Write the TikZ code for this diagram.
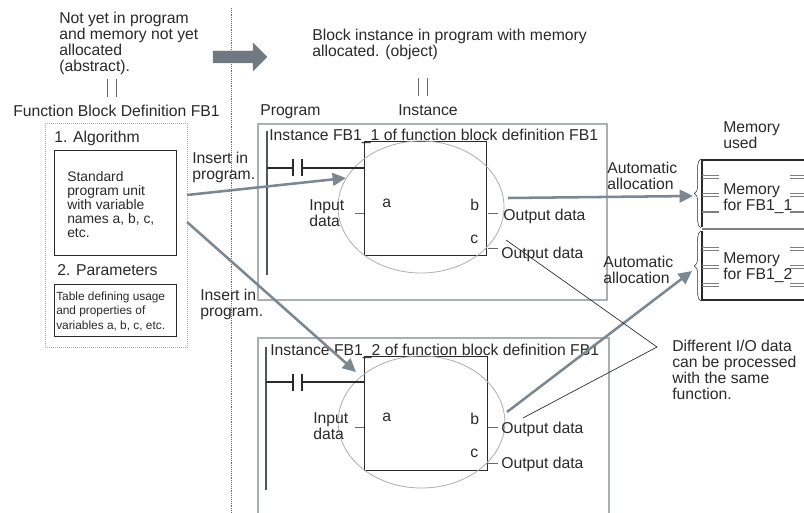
\documentclass[tikz,border=0pt]{standalone}
\usepackage{fontspec}
\setmainfont{Liberation Sans}
\usetikzlibrary{arrows.meta,decorations.pathreplacing,shapes.geometric}
\definecolor{gline}{HTML}{7C8790}
\definecolor{lgray}{HTML}{A9AFB4}
\definecolor{ink}{HTML}{2A2A2A}
\tikzset{
  x=0.75pt,y=-0.75pt,
  lab/.style={inner sep=0pt,anchor=north west,align=left,text=ink,yshift=-0.75pt,font=\fontsize{11.8}{12}\selectfont},
  smalllab/.style={inner sep=0pt,anchor=north west,align=left,text=ink,font=\fontsize{10.4}{10.6}\selectfont},
  tinylab/.style={inner sep=0pt,anchor=north west,align=left,text=ink,font=\fontsize{8.9}{10.6}\selectfont},
  inst/.style={draw=lgray,line width=0.8pt},
  fb/.style={draw=ink,line width=0.8pt},
  oval/.style={draw=lgray,line width=0.6pt},
  thick arrow/.style={draw=gline,line width=1.9pt,-{Triangle[length=10pt,width=9.5pt]}},
  thin/.style={draw=ink,line width=0.5pt},
  stub/.style={draw=ink!70,line width=0.7pt},
  mem/.style={draw=ink,line width=0.8pt},
  memg/.style={draw=ink!60,line width=0.55pt},
  brace/.style={draw=ink,line width=0.4pt,decorate,decoration={brace,amplitude=5pt}}
}
\begin{document}
\begin{tikzpicture}
\useasboundingbox (0,0) rectangle (804,513);
\fill[white] (0,0) rectangle (804,513);
% divider
\coordinate (dt) at (231,8); \coordinate (db) at (231,513);
\draw[draw=ink!70,line width=0.4pt,densely dotted] (dt) -- (db);
% big arrow
\fill[fill=gline!90!black,draw=ink!60,line width=0.3pt] (213,51) -- (253,51) -- (253,43) -- (267,57) -- (253,71) -- (253,63) -- (213,63) -- cycle;
% top texts
\node[lab] (t1) at (59,11) {Not yet in program\\and memory not yet\\allocated\\(abstract).};
\node[lab] (t2) at (312,28) {Block instance in program with memory\\allocated. (object)};
\draw[draw=ink!70,line width=0.5pt] (107,79) -- (107,97) (116,79) -- (116,97);
\draw[draw=ink!70,line width=0.5pt] (418,78) -- (418,96) (427,78) -- (427,96);
\node[lab] (t3) at (13,104) {Function Block Definition FB1};
\node[lab] (t4) at (260,103) {Program};
\node[lab] (t5) at (398,103) {Instance};
% definition
\node[draw=lgray,densely dotted,line width=0.5pt,minimum width=106.5pt,minimum height=168pt,inner sep=0pt,anchor=north west] (def) at (45,123) {};
\node[lab] at (54,130) {1. Algorithm};
\node[fb,minimum width=91.5pt,minimum height=78.75pt,inner sep=0pt,anchor=north west] (alg) at (54,150) {};
\node[smalllab] at (67,171) {Standard\\program unit\\with variable\\names a, b, c,\\etc.};
\node[lab] at (57,263) {2. Parameters};
\node[fb,minimum width=91.5pt,minimum height=39pt,inner sep=0pt,anchor=north west] (par) at (54,284) {};
\node[tinylab] at (56,292) {Table defining usage\\and properties of\\variables a, b, c, etc.};
% instance 1
\draw[inst] (258,124) rectangle (607,300);
\node[lab] at (269,128) {Instance FB1\_1 of function block definition FB1};
\draw[draw=ink!80,line width=0.8pt] (267,131) -- (267,275);
\node[fb,minimum width=91.5pt,minimum height=85.5pt,inner sep=0pt,anchor=north west] (b1) at (364,141) {};
\node[oval,ellipse,minimum width=124.5pt,minimum height=99pt,inner sep=0pt] (e1) at (421,207) {};
\draw[fb] (267,168) -- (293,168) (302,168) -- (364,168);
\draw[draw=ink,line width=1pt] (293,159) -- (293,176) (302,159) -- (302,176);
\draw[stub] (355,213) -- (364,213) (488,213) -- (498,213) (488,248) -- (498,248);
\node[lab] at (309,198) {Input\\data};
\node[lab] at (382,198) {a};
\node[lab] at (470,198) {b};
\node[lab] at (470,234) {c};
\node[lab] at (503,208) {Output data};
\node[lab] at (501,246) {Output data};
% instance 2
\draw[inst] (258,513) -- (258,338) -- (609,338) -- (609,513);
\node[lab] at (270,343) {Instance FB1\_2 of function block definition FB1};
\draw[draw=ink!80,line width=0.8pt] (266,347) -- (266,490);
\node[fb,minimum width=92pt,minimum height=85.5pt,inner sep=0pt,anchor=north west] (b2) at (364,356) {};
\node[oval,ellipse,minimum width=125pt,minimum height=99pt,inner sep=0pt] (e2) at (421.5,422) {};
\draw[fb] (266,382) -- (293,382) (302,382) -- (364,382);
\draw[draw=ink,line width=1pt] (293,374) -- (293,391) (302,374) -- (302,391);
\draw[stub] (355,427) -- (364,427) (488,427) -- (498,427) (488,463) -- (498,463);
\node[lab] at (313,411) {Input\\data};
\node[lab] at (382,412) {a};
\node[lab] at (470,412) {b};
\node[lab] at (470,448) {c};
\node[lab] at (501,421) {Output data};
\node[lab] at (501,456) {Output data};
% insert labels
\node[lab] at (192,151) {Insert in\\program.};
\node[lab] at (200,288) {Insert in\\program.};
\node[lab] at (607,161) {Automatic\\allocation};
\node[lab] at (603,255) {Automatic\\allocation};
% memory
\node[lab] at (723,120) {Memory\\used};
\draw[mem] (804,160) -- (702,160) -- (702,227) (702,231) -- (702,300) -- (804,300);
\draw[draw=ink!60,line width=1.1pt] (702,229) -- (804,229);
\foreach \y in {175,178,193,196,247,250,265,268,283,286}{
  \draw[memg] (702,\y) -- (719,\y) (790,\y) -- (804,\y);
}
\draw[draw=ink!60,line width=1.1pt] (702,212) -- (719,212) (790,212) -- (804,212);
\node[lab] at (723,182) {Memory\\for FB1\_1};
\node[lab] at (723,251) {Memory\\for FB1\_2};
\coordinate (br1t) at (701,159); \coordinate (br1b) at (701,228);
\coordinate (br2t) at (701,231); \coordinate (br2b) at (701,301);
\draw[brace] (br1b) -- (br1t);
\draw[brace] (br2b) -- (br2t);
% connectors
\coordinate (a1s) at (187,195); \coordinate (a1e) at (346,178);
\coordinate (a2s) at (187,222); \coordinate (a2e) at (356,372);
\coordinate (a3s) at (508,198); \coordinate (a3e) at (693,196);
\coordinate (a4s) at (507,412); \coordinate (a4e) at (692,271);
\draw[thick arrow] (a1s) -- (a1e);
\draw[thick arrow] (a2s) -- (a2e);
\draw[thick arrow] (a3s) -- (a3e);
\draw[thick arrow] (a4s) -- (a4e);
\node[lab] (diff) at (672,339) {Different I/O data\\can be processed\\with the same\\function.};
\coordinate (l1) at (506,240); \coordinate (l2) at (523,418); \coordinate (lj) at (657,347);
\draw[thin] (l1) -- (lj) -- (l2);
\end{tikzpicture}
\end{document}
